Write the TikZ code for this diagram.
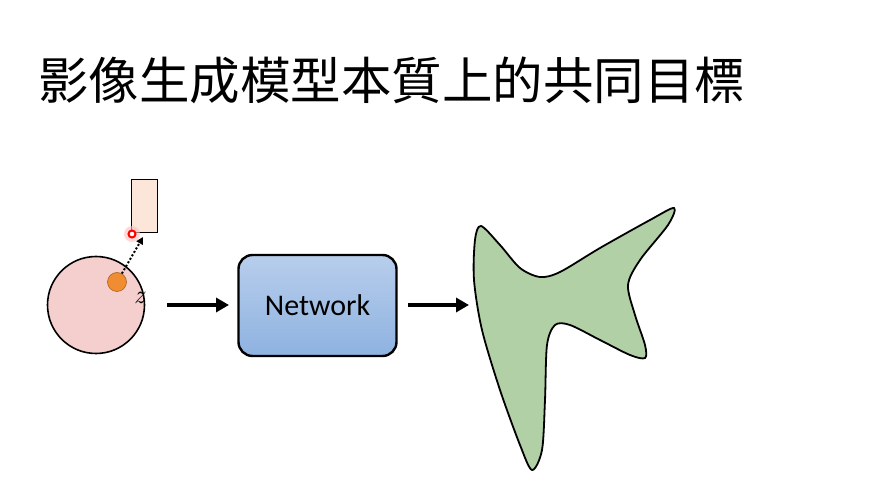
\documentclass[tikz,border=0pt]{standalone}
\usepackage{fontspec}
\setmainfont{Carlito}
\newfontfamily\cjk{Noto Sans CJK TC}
\newfontfamily\lmr{Latin Modern Roman}
\usetikzlibrary{arrows.meta,shadings}
\definecolor{pinkc}{RGB}{245,206,206}
\definecolor{orangec}{RGB}{240,140,50}
\definecolor{peachc}{RGB}{252,230,218}
\definecolor{bluetop}{RGB}{184,206,236}
\definecolor{bluebot}{RGB}{142,178,224}
\definecolor{greenc}{RGB}{178,208,166}
\tikzset{bigarrow/.style={black,line width=4pt,-{Triangle[length=13pt,width=14pt]}}}
\begin{document}
\begin{tikzpicture}[x=1pt,y=-1pt]
			\useasboundingbox[fill=white] (0,0) rectangle (870,502);
			\node[anchor=west,inner sep=0pt,font=\cjk\fontsize{50.5}{55}\selectfont](t) at (38,80){影像生成模型本質上的共同目標};
			\node[circle,draw=black,line width=1.6pt,fill=pinkc,minimum size=97pt,inner sep=0pt](s) at (96,305){};
			\node[circle,draw=orangec!70!black,line width=0.6pt,fill=orangec,minimum size=19pt,inner sep=0pt](d) at (117,282){};
			\node[inner sep=0pt,font=\lmr\itshape\fontsize{26}{26}\selectfont](z) at (139,298){z};
			\node[draw=black,line width=1pt,fill=peachc,minimum width=26pt,minimum height=53pt,inner sep=0pt](r) at (144,206.5){};
			\node[circle,fill=red!25,opacity=0.6,minimum size=16pt,inner sep=0pt](g) at (132,234){};
			\node[circle,draw=red,line width=2pt,fill=white,minimum size=7pt,inner sep=0pt](p) at (132,234){};
			\coordinate (c) at (143,237);
			\draw[black,line width=2pt,dotted,-{Triangle[length=7pt,width=7pt]}](d)--(c);
			\node[draw=black,line width=2.4pt,rounded corners=14pt,top color=bluetop,bottom color=bluebot,minimum width=158pt,minimum height=101pt,inner sep=0pt,font=\fontsize{30}{30}\selectfont](n) at (317.5,305.5){Network};
			\coordinate (a) at (167,305);
			\coordinate (b) at (229,305);
			\coordinate (e) at (408,305);
			\coordinate (o) at (469,305);
			\draw[bigarrow](a)--(b);
			\draw[bigarrow](e)--(o);
			\draw[black,line width=1.8pt,fill=greenc] plot[smooth cycle,tension=0.5] coordinates {
				(481,226) (500,245) (520,268) (540,277) (560,272) (600,248) (650,220)
				(674,208) (668,225) (640,260) (628,285) (635,315) (645,345)
				(645,358) (630,355) (600,340) (570,325) (555,325) (547,345) (545,400) (542,450)
				(532,470) (520,445) (500,390) (482,330) (474,280) (475,240)};
		\end{tikzpicture}
\end{document}
